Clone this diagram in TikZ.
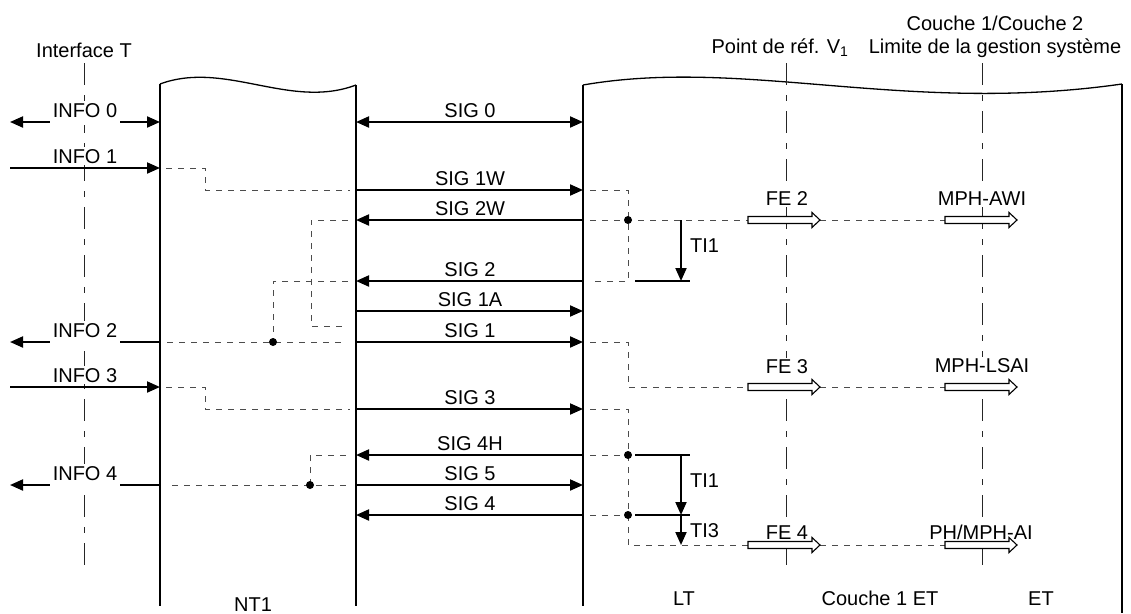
\documentclass[tikz,border=0pt]{standalone}
\usepackage{fontspec}
\setmainfont{Liberation Sans}
\usetikzlibrary{arrows.meta}
\tikzset{
  edge/.style={line width=2pt},
  wave/.style={line width=1.3pt},
  sig/.style={line width=2pt, -{Triangle[length=13pt,width=11pt]}},
  sigb/.style={line width=2pt, {Triangle[length=13pt,width=11pt]}-{Triangle[length=13pt,width=11pt]}},
  solidl/.style={line width=2pt},
  dsh/.style={line width=1pt, black!70, dash pattern=on 6pt off 6pt},
  axis/.style={line width=1pt, black!85, dash pattern=on 22pt off 10pt on 6pt off 10pt},
  lbl/.style={anchor=base, inner sep=0pt},
  lblf/.style={anchor=base, fill=white, inner sep=1pt},
  lblw/.style={anchor=base, fill=white, inner sep=2pt},
  lblcut/.style={anchor=base, fill=white, inner xsep=3pt, inner ysep=2pt, text depth=6pt},
  hol/.pic={\draw[line width=1.1pt, fill=white] (0,-3.5) -- (64,-3.5) -- (64,-7.5) -- (72,0) -- (64,7.5) -- (64,3.5) -- (0,3.5) -- cycle;},
  dotn/.style={circle, fill=black, inner sep=0pt, minimum size=8pt}
}
\begin{document}
\begin{tikzpicture}[x=1pt,y=-1pt,font=\fontsize{20}{24}\selectfont]
\useasboundingbox (0,0) rectangle (1131,613);

% named reference coordinates
\coordinate (nt1L) at (160,84);
\coordinate (nt1R) at (356,85);
\coordinate (ltL) at (583,85);
\coordinate (etR) at (1122,84);
\coordinate (axT) at (84,63);
\coordinate (axV) at (786,63);
\coordinate (axC) at (982,63);
\coordinate (xl) at (10,0);

% boxes
\draw[wave] (nt1L) .. controls (225,60) and (290,110) .. (nt1R);
\draw[edge] (nt1L) -- (nt1L |- 0,606);
\draw[edge] (nt1R) -- (nt1R |- 0,606);
\draw[wave] (ltL) .. controls (745,57) and (905,115) .. (etR);
\draw[edge] (ltL) -- (ltL |- 0,606);
\draw[edge] (etR) -- (etR |- 0,613);

% axes
\draw[axis] (axT) -- (axT |- 0,567);
\draw[axis] (axV) -- (axV |- 0,567);
\draw[axis] (axC) -- (axC |- 0,567);

% top labels
\node[lbl] (tI) at (84,57) {Interface T};
\node[lbl] (tV) at (780,53) {Point de réf. V\textsubscript{1}};
\node[lbl] (tC1) at (995,30) {Couche 1/Couche 2};
\node[lbl] (tC2) at (995,53) {Limite de la gestion système};

% bottom labels
\node[lbl] (bNT) at (253,611) {NT1};
\node[lbl] (bLT) at (684,605) {LT};
\node[lbl] (bC) at (880,605) {Couche 1 ET};
\node[lbl] (bET) at (1041,605) {ET};

% INFO arrows (T interface)
\draw[sigb] (xl |- 0,122) -- (nt1L |- 0,122);
\draw[sig] (xl |- 0,168) -- (nt1L |- 0,168);
\draw[sig] (nt1L |- 0,342) -- (xl |- 0,342);
\draw[sig] (xl |- 0,387) -- (nt1L |- 0,387);
\draw[sig] (nt1L |- 0,485) -- (xl |- 0,485);

\node[lblcut] (i0) at (85,117) {INFO 0};
\node[lblw] (i1) at (85,163) {INFO 1};
\node[lblcut] (i2) at (85,337) {INFO 2};
\node[lblw] (i3) at (85,382) {INFO 3};
\node[lblcut] (i4) at (85,480) {INFO 4};

% SIG arrows
\draw[sigb] (nt1R |- 0,122) -- (ltL |- 0,122);
\draw[sig] (nt1R |- 0,190) -- (ltL |- 0,190);
\draw[sig] (ltL |- 0,220) -- (nt1R |- 0,220);
\draw[sig] (ltL |- 0,281) -- (nt1R |- 0,281);
\draw[sig] (nt1R |- 0,311) -- (ltL |- 0,311);
\draw[sig] (nt1R |- 0,342) -- (ltL |- 0,342);
\draw[sig] (nt1R |- 0,409) -- (ltL |- 0,409);
\draw[sig] (ltL |- 0,455) -- (nt1R |- 0,455);
\draw[sig] (nt1R |- 0,485) -- (ltL |- 0,485);
\draw[sig] (ltL |- 0,515) -- (nt1R |- 0,515);

\node[lbl] (s0) at (470,117) {SIG 0};
\node[lbl] (s1w) at (470,185) {SIG 1W};
\node[lbl] (s2w) at (470,215) {SIG 2W};
\node[lbl] (s2) at (470,276) {SIG 2};
\node[lbl] (s1a) at (470,306) {SIG 1A};
\node[lbl] (s1) at (470,337) {SIG 1};
\node[lbl] (s3) at (470,404) {SIG 3};
\node[lbl] (s4h) at (470,450) {SIG 4H};
\node[lbl] (s5) at (470,480) {SIG 5};
\node[lbl] (s4) at (470,510) {SIG 4};

% dashed internal paths in NT1
\draw[dsh] (166,168) -- (205,168) -- (205,190) -- (350,190);
\draw[dsh] (348,220) -- (311,220) -- (311,326) -- (345,326);
\draw[dsh] (348,281) -- (273,281) -- (273,342);
\draw[dsh] (167,342) -- (345,342);
\node[dotn] (d1) at (273,342) {};
\draw[dsh] (166,387) -- (205,387) -- (205,409) -- (350,409);
\draw[dsh] (172,485) -- (348,485);
\draw[dsh] (310,485) -- (310,455) -- (348,455);
\node[dotn] (d2) at (310,485) {};

% dashed internal paths in LT / ET
\draw[dsh] (590,190) -- (628,190) -- (628,281) -- (595,281);
\draw[dsh] (590,220) -- (748,220);
\draw[dsh] (820,220) -- (945,220);
\node[dotn] (d3) at (628,220) {};
\draw[solidl] (635,281) -- (690,281);
\draw[sig] (681,220) -- (681,281);
\node[lbl, anchor=base west] (t1a) at (690,252) {TI1};

\draw[dsh] (590,342) -- (628,342) -- (628,387) -- (748,387);
\draw[dsh] (820,387) -- (945,387);

\draw[dsh] (590,409) -- (628,409) -- (628,545) -- (748,545);
\draw[dsh] (820,545) -- (945,545);
\draw[dsh] (590,455) -- (628,455);
\draw[dsh] (590,515) -- (628,515);
\node[dotn] (d4) at (628,455) {};
\node[dotn] (d5) at (628,515) {};
\draw[solidl] (635,455) -- (690,455);
\draw[solidl] (635,515) -- (690,515);
\draw[sig] (681,455) -- (681,515);
\draw[sig] (681,515) -- (681,545);
\node[lbl, anchor=base west] (t1b) at (690,487) {TI1};
\node[lbl, anchor=base west] (t3) at (690,537) {TI3};

% labels of the primitives (drawn before the hollow arrows)
\node[lblf] (fe2) at (787,205) {FE 2};
\node[lblf] (m2) at (982,205) {MPH-AWI};
\node[lblf] (fe3) at (787,373) {FE 3};
\node[lblf] (m3) at (982,372) {MPH-LSAI};
\node[lblf] (fe4) at (787,539) {FE 4};
\node[lblf] (m4) at (981,539) {PH/MPH-AI};

% hollow arrows
\pic at (748,220) {hol};
\pic at (945,220) {hol};
\pic at (748,387) {hol};
\pic at (945,387) {hol};
\pic at (748,545) {hol};
\pic at (945,545) {hol};
\end{tikzpicture}
\end{document}
